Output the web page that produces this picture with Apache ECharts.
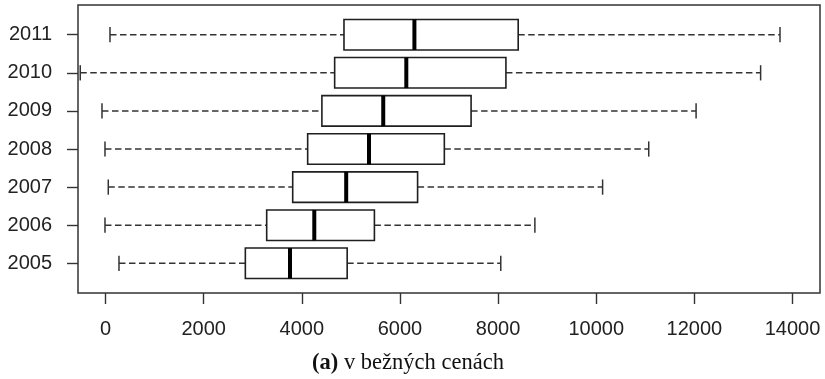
<!DOCTYPE html>
<html>
<head>
<meta charset="utf-8">
<script src="https://cdn.jsdelivr.net/npm/echarts@6/dist/echarts.min.js"></script>
<style>
  html, body { margin: 0; padding: 0; background: #fff; }
  #chart { width: 825px; height: 379px; }
</style>
</head>
<body>
<div id="chart"></div>
<script>
// Category labels (bottom to top) and five-number summaries per year
var years = ['2005', '2006', '2007', '2008', '2009', '2010', '2011'];
var whiskerLow = [275, -10, 57, -10, -71, -514, 92];
var quartile1 = [2850, 3285, 3815, 4120, 4410, 4670, 4860];
var medians = [3760, 4255, 4905, 5370, 5660, 6130, 6295];
var quartile3 = [4925, 5480, 6360, 6905, 7450, 8160, 8410];
var whiskerHigh = [8055, 8750, 10130, 11070, 12035, 13350, 13745];
var xTicks = [0, 2000, 4000, 6000, 8000, 10000, 12000, 14000];
var yTicks = [1, 2, 3, 4, 5, 6, 7];
var caption = { tag: '(a)', text: ' v bežných cenách' };

// One row per box: [low, q1, median, q3, high, position]
var rows = years.map(function (y, i) {
  return [whiskerLow[i], quartile1[i], medians[i], quartile3[i], whiskerHigh[i], i + 1];
});

var ink = '#1f1f1f';
var boxHalf = 0.4;
var stapleHalf = 0.2;

function renderBox(params, api) {
  var lo = api.value(0), q1 = api.value(1), md = api.value(2),
      q3 = api.value(3), hi = api.value(4), pos = api.value(5);
  var tl = api.coord([q1, pos + boxHalf]);
  var br = api.coord([q3, pos - boxHalf]);
  var pLo = api.coord([lo, pos]);
  var pQ1 = api.coord([q1, pos]);
  var pQ3 = api.coord([q3, pos]);
  var pHi = api.coord([hi, pos]);
  var sTop = api.coord([lo, pos + stapleHalf])[1];
  var sBot = api.coord([lo, pos - stapleHalf])[1];
  var mTop = api.coord([md, pos + boxHalf]);
  var mBot = api.coord([md, pos - boxHalf]);
  var dashed = { stroke: '#333', lineWidth: 1.5, lineDash: [6.5, 3.5] };
  var solid = { stroke: '#333', lineWidth: 1.5 };
  return {
    type: 'group',
    children: [
      { type: 'line', shape: { x1: pLo[0], y1: pLo[1], x2: pQ1[0], y2: pQ1[1] }, style: dashed },
      { type: 'line', shape: { x1: pQ3[0], y1: pQ3[1], x2: pHi[0], y2: pHi[1] }, style: dashed },
      { type: 'line', shape: { x1: pLo[0], y1: sTop, x2: pLo[0], y2: sBot }, style: solid },
      { type: 'line', shape: { x1: pHi[0], y1: sTop, x2: pHi[0], y2: sBot }, style: solid },
      { type: 'rect', shape: { x: tl[0], y: tl[1], width: br[0] - tl[0], height: br[1] - tl[1] },
        style: { fill: '#fff', stroke: ink, lineWidth: 1.6 } },
      { type: 'line', shape: { x1: mTop[0], y1: mTop[1], x2: mBot[0], y2: mBot[1] },
        style: { stroke: '#000', lineWidth: 4 } }
    ]
  };
}

var chart = echarts.init(document.getElementById('chart'), null, { renderer: 'canvas' });
chart.setOption({
  animation: false,
  backgroundColor: '#fff',
  title: {
    text: '{b|' + caption.tag + '}{r|' + caption.text + '}',
    left: 408,
    textAlign: 'center',
    top: 352,
    padding: 0,
    textStyle: {
      rich: {
        b: { fontFamily: 'Liberation Serif', fontWeight: 'bold', fontSize: 22.5, color: '#111' },
        r: { fontFamily: 'Liberation Serif', fontWeight: 'normal', fontSize: 22.5, color: '#111' }
      }
    }
  },
  grid: {
    left: 78, top: 5, width: 742, height: 288,
    show: true, borderColor: '#333', borderWidth: 1.5, backgroundColor: 'transparent'
  },
  xAxis: {
    type: 'value',
    min: -560, max: 14560,
    axisLine: { show: false, onZero: false },
    splitLine: { show: false },
    axisTick: { show: true, length: 11, customValues: xTicks, lineStyle: { color: '#333', width: 1.4 } },
    axisLabel: {
      customValues: xTicks, margin: 26,
      fontFamily: 'Liberation Sans', fontSize: 20, color: '#222',
      formatter: function (v) { return String(v); }
    }
  },
  yAxis: {
    type: 'value',
    min: 0.22, max: 7.78,
    axisLine: { show: false, onZero: false },
    splitLine: { show: false },
    axisTick: { show: true, length: 11, customValues: yTicks, lineStyle: { color: '#333', width: 1.4 } },
    axisLabel: {
      customValues: yTicks, margin: 26,
      fontFamily: 'Liberation Sans', fontSize: 20, color: '#222',
      formatter: function (v) { return years[Math.round(v) - 1]; }
    }
  },
  series: [{
    type: 'custom',
    renderItem: renderBox,
    encode: { x: [0, 1, 2, 3, 4], y: 5 },
    data: rows,
    clip: false
  }]
});
</script>
</body>
</html>
